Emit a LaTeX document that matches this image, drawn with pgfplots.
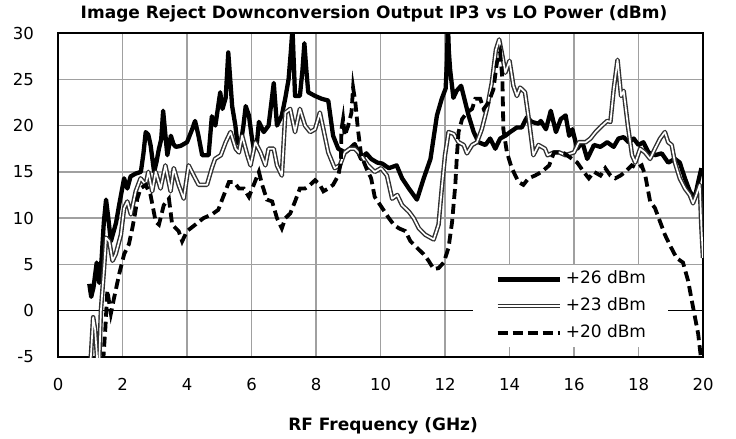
\documentclass[border=0pt]{standalone}
\usepackage{fontspec}
\setmainfont{DejaVu Sans}
\usepackage{pgfplots}
\pgfplotsset{compat=1.18}
\definecolor{gridgray}{HTML}{A0A0A0}
\definecolor{dblgray}{HTML}{303030}

\begin{document}
\begin{tikzpicture}
\path[use as bounding box] (0,0) rectangle (736bp,439bp);
\begin{axis}[
  at={(58bp,82bp)}, anchor=south west,
  scale only axis, width=645bp, height=324bp,
  xmin=0, xmax=20, ymin=-5, ymax=30,
  xtick={0,2,...,20}, ytick={-5,0,...,30},
  grid=major, grid style={gridgray, line width=1.3bp},
  major tick length=0pt,
  axis line style={black, line width=2.8bp},
  /pgf/number format/assume math mode=true,
  ticklabel style={font=\fontsize{16.5bp}{19bp}\selectfont, inner sep=0pt},
  xticklabel style={anchor=north, yshift=-21bp},
  yticklabel style={anchor=east, xshift=-24bp},
  title={Image Reject Downconversion Output IP3 vs LO Power (dBm)},
  title style={font=\bfseries\fontsize{17bp}{20bp}\selectfont,
    at={(axis description cs:0.49,1)}, anchor=base, yshift=9bp, inner sep=0pt},
  xlabel={RF Frequency (GHz)},
  xlabel style={font=\bfseries\fontsize{17bp}{20bp}\selectfont,
    at={(axis description cs:0.504,0)}, anchor=base, yshift=-73bp, inner sep=0pt},
  legend image code/.code={\draw[#1] (0bp,0bp) -- (62bp,0bp);},
  legend cell align=left,
  legend style={at={(axis cs:12.87,4.97)}, anchor=north west, draw=none, fill=white,
    font=\fontsize{17bp}{20bp}\selectfont, inner xsep=22bp, inner ysep=7bp,
    row sep=11.7bp, column sep=4bp,
    nodes={inner sep=0pt, text height=12bp, text depth=3bp}},
]
% zero line
\addplot[black, line width=1.3bp, forget plot] coordinates {(0,0) (20,0)};

% +26 dBm
\addplot[black, line width=4.3bp, line join=round] coordinates {
(0.97,2.9) (1.03,1.5) (1.1,2.5) (1.2,5.2) (1.28,3.0) (1.35,5.5) (1.42,9.5) (1.49,12)
(1.56,10) (1.64,7.5) (1.72,8.5) (1.8,9.5) (1.9,11.5) (2.05,14.3) (2.15,13.2) (2.25,14.5)
(2.4,14.8) (2.57,15) (2.65,17) (2.72,19.3) (2.8,19) (2.87,17.9) (2.98,15) (3.05,16)
(3.13,17.5) (3.2,18.5) (3.26,21.6) (3.33,19) (3.39,16.8) (3.5,18.9) (3.58,18) (3.65,17.7)
(3.8,17.8) (4.0,18.2) (4.16,19.6) (4.25,20.5) (4.35,19) (4.47,16.8) (4.67,16.8) (4.77,21)
(4.88,20) (5.03,23.6) (5.1,21.8) (5.2,23) (5.28,27.9) (5.4,22.1) (5.5,20) (5.56,18.2)
(5.66,17.9) (5.75,20) (5.82,22.1) (5.92,21.1) (6.0,19) (6.07,17.5) (6.17,18.2) (6.23,20.4)
(6.38,19.3) (6.53,20) (6.69,24.6) (6.79,20) (6.94,21.1) (7.05,23) (7.15,25) (7.22,28)
(7.27,30.5) (7.32,26) (7.35,23.2) (7.5,23.2) (7.58,26) (7.64,28.9) (7.7,26) (7.76,23.6)
(7.97,23.2) (8.17,22.9) (8.38,22.7) (8.53,18.9) (8.69,17.5) (8.9,17.1) (9.05,17.5) (9.2,18)
(9.4,16.4) (9.56,17) (9.71,16.4) (9.9,16) (10.05,15.9) (10.26,15.4) (10.5,15.7) (10.67,14.3)
(10.88,13.2) (11.13,12) (11.34,14.3) (11.55,16.4) (11.75,21.1) (11.9,22.9) (12.02,24) (12.06,27)
(12.09,31) (12.12,28) (12.16,26) (12.26,23) (12.36,23.75) (12.5,24.3) (12.6,22.9) (12.73,21.1)
(12.89,19.3) (13.04,18.2) (13.25,17.9) (13.4,18.6) (13.56,17.5) (13.71,18.6) (13.87,18.9) (14.02,19.3)
(14.23,19.8) (14.38,19.8) (14.54,20.9) (14.69,20.4) (14.9,20.2) (14.97,20.5) (15.13,19.6) (15.28,21.6)
(15.44,19.3) (15.59,20.7) (15.74,21.1) (15.85,18.9) (15.95,19.6) (16.1,17.5) (16.26,18.2) (16.41,16.4)
(16.62,17.9) (16.82,17.7) (17.03,18.2) (17.23,17.7) (17.38,18.6) (17.54,18.75) (17.69,18.2) (17.85,18.6)
(18.0,17.9) (18.15,18.2) (18.31,17.1) (18.51,16.8) (18.72,17) (18.92,16) (19.13,16.4) (19.28,16)
(19.44,14.3) (19.59,12.9) (19.74,12.1) (19.85,13.9) (19.95,15.4)
};
\addlegendentry{+26 dBm}

% +23 dBm
\addplot[draw=dblgray, double=white, line width=1.4bp, double distance=1.7bp, line join=round] coordinates {
(1.01,-5.5) (1.09,-0.7) (1.15,-2) (1.22,-5.5) (1.28,-5.5) (1.33,0) (1.43,4.7) (1.49,7.9)
(1.59,7.5) (1.69,5.4) (1.79,6.1) (1.95,8.2) (2.05,11.1) (2.15,11.8) (2.26,10.4) (2.41,12.9)
(2.56,14.3) (2.72,13.6) (2.8,15) (2.92,12.9) (3.03,15) (3.18,13.2) (3.33,15.7) (3.49,12.9)
(3.59,15.4) (3.74,13.6) (3.9,12.1) (4.05,15.7) (4.21,14.6) (4.36,13.6) (4.62,13.6) (4.77,15.4)
(4.87,16.4) (5.05,16.8) (5.2,18.2) (5.35,19.3) (5.51,17.5) (5.61,17.1) (5.71,18.9) (5.87,16.8)
(5.97,15.7) (6.12,18.2) (6.28,17.1) (6.43,15.7) (6.53,17.5) (6.69,17.5) (6.79,15.7) (6.94,14.6)
(7.05,21.4) (7.2,21.8) (7.35,19.3) (7.5,21.8) (7.66,20) (7.82,19.3) (7.97,19.6) (8.12,21.4)
(8.23,19.6) (8.38,17.1) (8.58,15.4) (8.74,15.7) (8.89,17.1) (9.05,17.5) (9.2,17.5) (9.4,16.8)
(9.61,15.7) (9.82,15) (10.02,15.4) (10.2,14.6) (10.36,12.1) (10.52,12.5) (10.67,11.4) (10.88,10.7)
(11.03,10) (11.19,8.9) (11.39,8.2) (11.65,7.7) (11.8,9.3) (11.9,13.2) (12.0,16.8) (12.11,19.3)
(12.27,19.1) (12.42,18.2) (12.58,17.9) (12.68,17) (12.84,17.9) (12.99,18.2) (13.14,19.6) (13.3,21.8)
(13.45,24.6) (13.58,28.2) (13.68,29.3) (13.78,27.5) (13.87,25.7) (14.0,27) (14.12,24.3) (14.23,23.2)
(14.33,24.1) (14.48,23.6) (14.61,20.4) (14.74,16.8) (14.9,17.9) (15.1,17.5) (15.18,16.8) (15.38,17.1)
(15.54,17.1) (15.74,16.8) (16.0,17.1) (16.15,18.2) (16.36,18.2) (16.51,18.6) (16.67,19.3) (16.87,20)
(17.03,20.5) (17.13,20.4) (17.23,23.9) (17.35,27.1) (17.46,23.2) (17.54,23.75) (17.67,20) (17.8,16.8)
(17.9,16) (18.05,17.5) (18.2,17.1) (18.36,16.4) (18.51,17.5) (18.67,18.6) (18.82,19.3) (18.92,18.2)
(19.03,17.9) (19.13,16) (19.28,14.3) (19.44,13.2) (19.59,12.5) (19.69,11.6) (19.79,12.5) (19.9,13.6)
(19.95,9) (20,5.7)
};
\addlegendentry{+23 dBm}

% +20 dBm
\addplot[black, line width=3.8bp, dash pattern=on 10bp off 5bp] coordinates {
(1.4,-5.5) (1.47,-1.8) (1.53,2.2) (1.64,-0.3) (1.74,1.4) (1.9,4) (2.05,6.1) (2.2,7.2)
(2.31,9) (2.4,10.7) (2.46,12.1) (2.56,13.2) (2.72,13.6) (2.87,12.5) (3.03,9.6) (3.13,9.3)
(3.28,11.4) (3.44,12.1) (3.54,9.3) (3.74,8.6) (3.85,7.5) (4.0,8.6) (4.26,9.3) (4.51,10)
(4.77,10.4) (4.97,10.9) (5.1,12.1) (5.3,13.9) (5.46,13.9) (5.61,13.2) (5.76,13.2) (5.92,12.3)
(6.07,13.6) (6.23,15) (6.33,13.6) (6.48,12) (6.64,11.8) (6.79,10) (6.94,8.9) (7.05,10)
(7.2,10.5) (7.35,11.8) (7.5,13.2) (7.66,13.2) (7.82,13.6) (7.97,14.1) (8.12,13.6) (8.23,12.9)
(8.38,13.2) (8.53,13.6) (8.69,14.6) (8.77,16) (8.79,19.6) (8.84,20.7) (8.89,18.9) (9.0,20)
(9.1,21.4) (9.15,24.1) (9.22,22.5) (9.3,19.6) (9.4,16.8) (9.56,15.4) (9.71,14.3) (9.82,12.3)
(10.05,11.1) (10.26,10) (10.41,9.3) (10.57,8.9) (10.77,8.6) (10.93,7.5) (11.13,6.8) (11.34,6.1)
(11.49,5.4) (11.65,4.5) (11.8,4.6) (11.96,5.2) (12.11,6.8) (12.22,9.6) (12.32,13.6) (12.37,16.8)
(12.42,19.3) (12.53,20.7) (12.68,21.4) (12.84,21.8) (12.94,22.9) (13.09,22.9) (13.2,21.8) (13.35,22.5)
(13.5,23.9) (13.61,26.8) (13.71,27.9) (13.78,25) (13.81,19.6) (13.92,17.1) (14.07,15.4) (14.28,13.9)
(14.43,13.6) (14.59,14.3) (14.79,14.6) (15.0,15) (15.23,15.7) (15.38,17.1) (15.54,17.1) (15.7,17)
(15.9,16.5) (16.1,16) (16.3,15) (16.46,14.3) (16.62,15) (16.82,14.6) (16.97,15.4) (17.13,14.6)
(17.28,14.3) (17.44,14.6) (17.59,15) (17.79,15.7) (17.95,15.4) (18.1,15.7) (18.21,14.6) (18.36,11.8)
(18.51,11.1) (18.67,9.6) (18.82,8.2) (18.97,7.1) (19.18,5.7) (19.38,5.2) (19.54,3.2) (19.69,0.4)
(19.85,-2.5) (19.95,-5.5)
};
\addlegendentry{+20 dBm}
\end{axis}
\end{tikzpicture}
\end{document}
